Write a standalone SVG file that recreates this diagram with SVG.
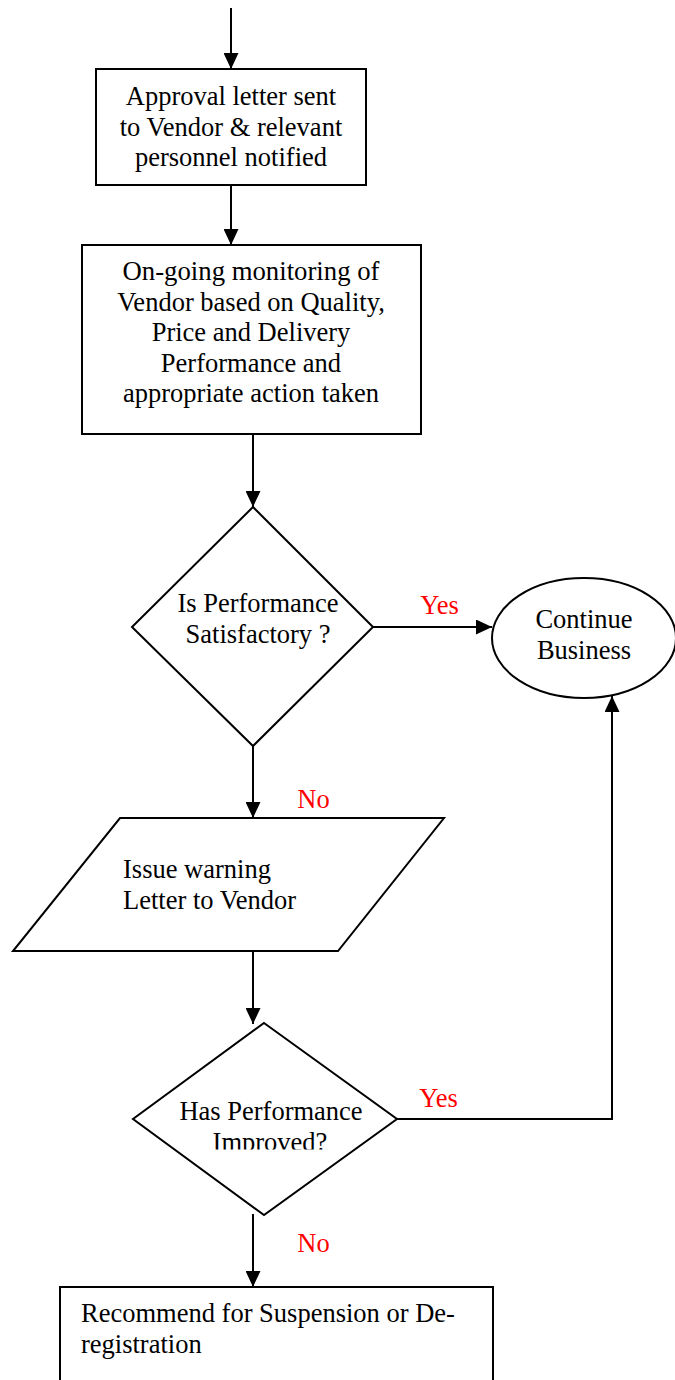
<svg xmlns="http://www.w3.org/2000/svg" width="675" height="1380" viewBox="0 0 675 1380">
<style>
.shape{fill:#fff;stroke:#000;stroke-width:2}
.t{font-family:"Liberation Serif","Times New Roman",serif;font-size:26.5px;fill:#000}
.c{text-anchor:middle}
.lbl{font-family:"Liberation Serif","Times New Roman",serif;font-size:26.5px;fill:#ff0000;text-anchor:middle}
.conn{fill:none;stroke:#000;stroke-width:2}
</style>
<defs>
<marker id="ah" markerUnits="userSpaceOnUse" markerWidth="16" markerHeight="15" refX="16" refY="7.5" orient="auto">
<path d="M0,0 L16,7.5 L0,15 Z" fill="#000"/>
</marker>
<clipPath id="clipImp"><rect x="130" y="1000" width="300" height="149.5"/></clipPath>
</defs>
<rect width="675" height="1380" fill="#fff"/>
<g id="connectors">
<line class="conn" x1="231" y1="8" x2="231" y2="69" marker-end="url(#ah)"/>
<line class="conn" x1="231" y1="185" x2="231" y2="245" marker-end="url(#ah)"/>
<line class="conn" x1="253" y1="434" x2="253" y2="507" marker-end="url(#ah)"/>
<line class="conn" x1="373" y1="627" x2="492" y2="627" marker-end="url(#ah)"/>
<line class="conn" x1="253" y1="746" x2="253" y2="818" marker-end="url(#ah)"/>
<line class="conn" x1="253" y1="951" x2="253" y2="1024" marker-end="url(#ah)"/>
<polyline class="conn" points="397,1119 612,1119 612,696" marker-end="url(#ah)"/>
<line class="conn" x1="253" y1="1214" x2="253" y2="1287" marker-end="url(#ah)"/>
<text class="lbl" x="439.5" y="614">Yes</text>
<text class="lbl" x="313.5" y="808">No</text>
<text class="lbl" x="438.5" y="1107">Yes</text>
<text class="lbl" x="313.5" y="1252">No</text>
</g>
<g id="approval">
<rect class="shape" x="96" y="69" width="270" height="116"/>
<text class="t c" x="231" y="105">Approval letter sent</text>
<text class="t c" x="231" y="135.5">to Vendor &amp; relevant</text>
<text class="t c" x="231" y="166">personnel notified</text>
</g>
<g id="monitoring">
<rect class="shape" x="82" y="245" width="339" height="189"/>
<text class="t c" x="251" y="280" textLength="257" lengthAdjust="spacingAndGlyphs">On-going monitoring of</text>
<text class="t c" x="251" y="310.5">Vendor based on Quality,</text>
<text class="t c" x="251" y="341">Price and Delivery</text>
<text class="t c" x="251" y="371.5">Performance and</text>
<text class="t c" x="251" y="402">appropriate action taken</text>
</g>
<g id="decision1">
<polygon class="shape" points="253,507 373,627 253,746 132,627"/>
<text class="t c" x="258" y="612">Is Performance</text>
<text class="t c" x="258" y="643">Satisfactory ?</text>
</g>
<g id="continue">
<ellipse class="shape" cx="584" cy="638" rx="92" ry="60"/>
<text class="t c" x="584" y="628">Continue</text>
<text class="t c" x="584" y="659">Business</text>
</g>
<g id="warning">
<polygon class="shape" points="120,818 444,818 338,951 13,951"/>
<text class="t" x="123" y="878">Issue warning</text>
<text class="t" x="123" y="909">Letter to Vendor</text>
</g>
<g id="decision2">
<polygon class="shape" points="264,1023 397,1119 264,1215 133,1119"/>
<g clip-path="url(#clipImp)">
<text class="t c" x="271" y="1120">Has Performance</text>
<text class="t c" x="270" y="1151">Improved?</text>
</g>
</g>
<g id="recommend">
<rect class="shape" x="60" y="1287" width="433" height="140"/>
<text class="t" x="81" y="1322">Recommend for Suspension or De-</text>
<text class="t" x="81" y="1353">registration</text>
</g>
</svg>
